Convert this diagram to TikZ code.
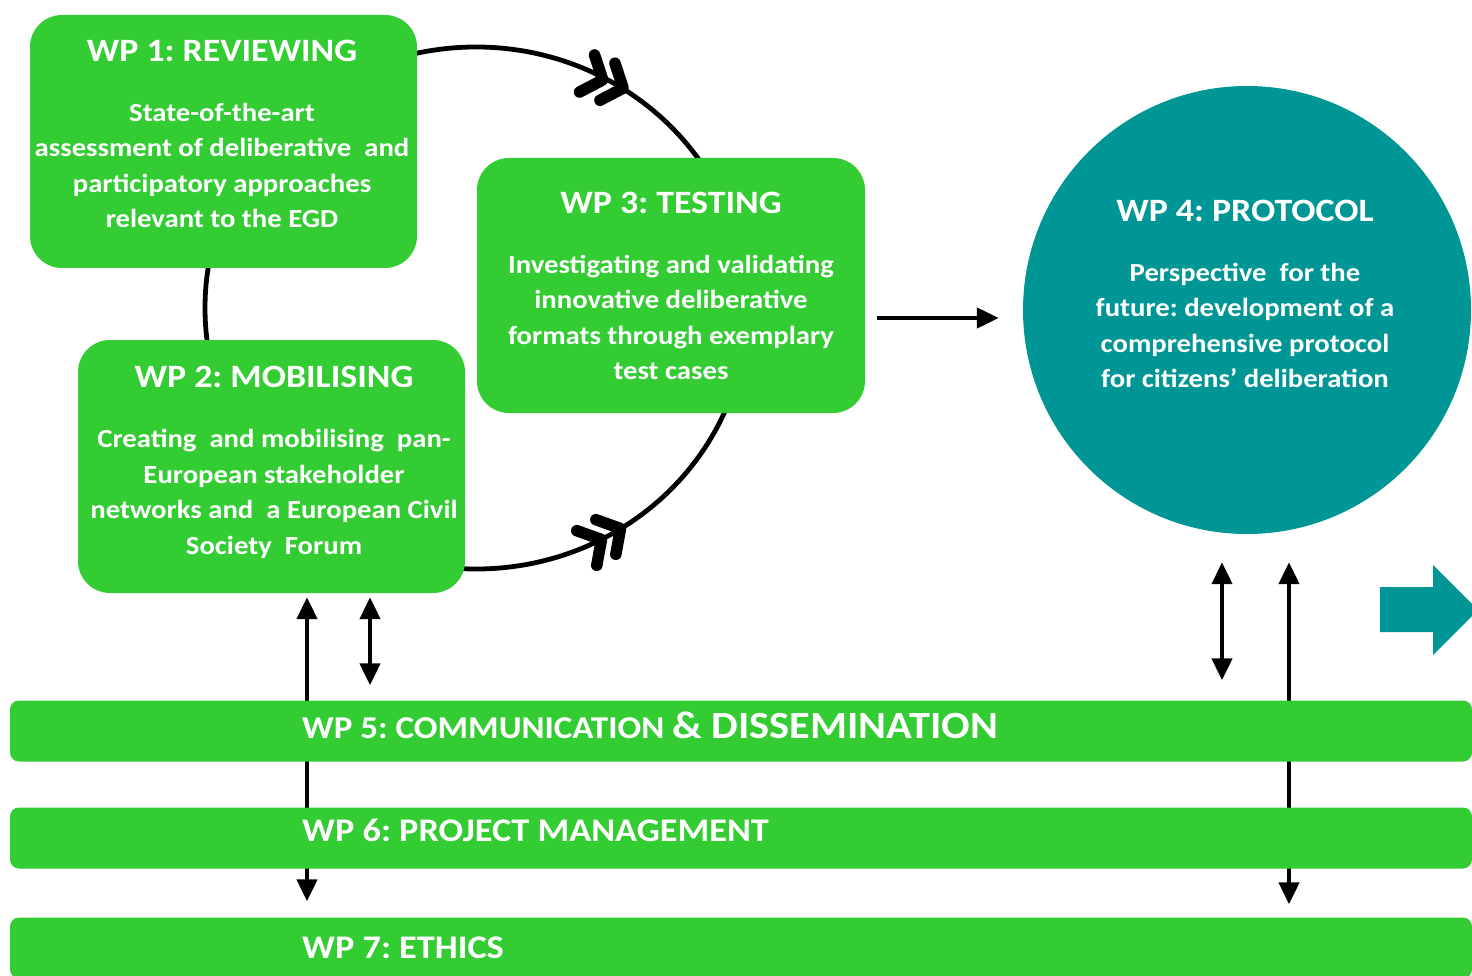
\documentclass[tikz,border=0pt]{standalone}
\usepackage{fontspec}
\setmainfont{Carlito}[FakeStretch=1.1]
\usetikzlibrary{arrows.meta,backgrounds}
\definecolor{wpgreen}{RGB}{51,204,51}
\definecolor{wpteal}{RGB}{0,150,150}
\frenchspacing
\begin{document}
\begin{tikzpicture}[x=1pt,y=-1pt,
  box/.style={fill=wpgreen, rounded corners=32pt, minimum width=387pt, minimum height=253pt, inner sep=0pt},
  bar/.style={fill=wpgreen, rounded corners=9pt, minimum width=1462pt, minimum height=61pt, inner sep=0pt},
  wptext/.style={text=white, font=\bfseries\fontsize{26.1}{35.5}\selectfont, align=center, inner sep=0pt, anchor=north},
  bartext/.style={text=white, font=\bfseries\fontsize{33}{33}\selectfont, inner sep=0pt, anchor=base west},
  ringline/.style={line width=4.8pt, black},
  link/.style={line width=4.5pt, -{Triangle[length=22pt,width=20pt]}},
  dlink/.style={line width=4.5pt, {Triangle[length=22pt,width=20pt]}-{Triangle[length=22pt,width=20pt]}},
  chevline/.style={line width=11.5pt, line cap=round, line join=round},
  chev/.pic={
    \draw[chevline] (-28,-20) -- (-11,0) -- (-28,20);
    \draw[chevline] (-6,-20) -- (11,0) -- (-6,20);
  }]
\useasboundingbox (0,0) rectangle (1472,976);
\clip (0,0) rectangle (1472,976);

% work package boxes
\node[box] (wp1) at (223.5,141.5) {};
\node[box] (wp2) at (271.5,466.5) {};
\node[box, minimum width=388pt, minimum height=255pt] (wp3) at (671,285.5) {};
\node[circle, fill=wpteal, minimum size=448pt, inner sep=0pt] (wp4) at (1247,310) {};

\node[bar] (wp5) at (741,731) {};
\node[bar] (wp6) at (741,838) {};
\node[bar] (wp7) at (741,948) {};

% texts
\newcommand\wptitle[1]{{\fontsize{32.6}{32.6}\selectfont #1}}
\node[wptext] (wp1t) at (222,39.5) {\wptitle{WP 1: REVIEWING}\\[24.5pt]State-of-the-art\\assessment of deliberative\ \ and\\participatory approaches\\relevant to the EGD};
\node[wptext] (wp2t) at (274,366) {\wptitle{WP 2: MOBILISING}\\[24.5pt]Creating\ \ and mobilising\ \ pan-\\European stakeholder\\networks and\ \ a European Civil\\Society\ \ Forum};
\node[wptext] (wp3t) at (671,191.5) {\wptitle{WP 3: TESTING}\\[24.5pt]Investigating and validating\\innovative deliberative\\formats through exemplary\\test cases};
\node[wptext] (wp4t) at (1245,199.5) {\wptitle{WP 4: PROTOCOL}\\[24.5pt]Perspective\ \ for the\\future: development of a\\comprehensive protocol\\for citizens’ deliberation};

\node[bartext] (wp5t) at (302,738) {{\fontsize{31.8}{31.8}\selectfont WP 5: COMMUNICATION} {\fontsize{38.5}{38.5}\selectfont \&~DISSEMINATION}};
\node[bartext] (wp6t) at (302,841) {WP 6: PROJECT MANAGEMENT};
\node[bartext] (wp7t) at (302,958) {WP 7: ETHICS};

% connectors behind the boxes
\begin{pgfonlayer}{background}
  \fill[white] (0,0) rectangle (1472,976);
  \coordinate (ringc) at (476,308);
  \draw[ringline] (ringc) ellipse[x radius=271pt, y radius=261pt];
  \coordinate (a1) at ([xshift=35.5pt]wp2.south);
  \coordinate (a2) at ([xshift=98.5pt]wp2.south);
  \coordinate (a3) at ([xshift=-25pt]wp4.south);
  \coordinate (a4) at ([xshift=42pt]wp4.south);
  \draw[dlink, shorten <=4pt, shorten >=16pt] (a1) -- (a1 |- wp7.north);
  \draw[dlink, shorten <=4pt, shorten >=15pt] (a2) -- (a2 |- wp5.north);
  \draw[dlink, shorten <=28pt, shorten >=20pt] (a3) -- (a3 |- wp5.north);
  \draw[dlink, shorten <=28pt, shorten >=13pt] (a4) -- (a4 |- wp7.north);
\end{pgfonlayer}

\coordinate (h1) at ([yshift=-32.5pt]wp3.east);
\draw[link, shorten <=12pt, shorten >=24pt] (h1) -- (h1 -| wp4.west);

% double chevrons on the ring
\pic[rotate=-22] at (613,84) {chev};
\pic[rotate=30] at (611,534) {chev};

% teal arrow
\fill[wpteal] (1380,587) -- (1433,587) -- (1433,565) -- (1478,610) -- (1433,655) -- (1433,632) -- (1380,632) -- cycle;
\end{tikzpicture}
\end{document}
